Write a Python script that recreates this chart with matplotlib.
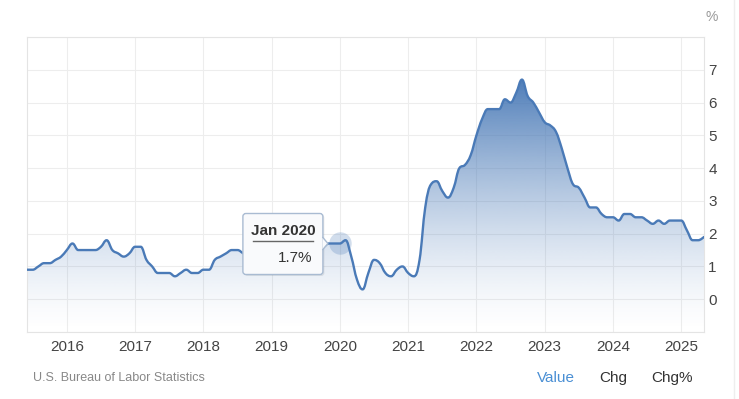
import numpy as np
import matplotlib
matplotlib.use("Agg")
import matplotlib.pyplot as plt
import matplotlib.transforms as mtransforms
from matplotlib import font_manager
from matplotlib.path import Path
from matplotlib.patches import PathPatch, FancyBboxPatch, Polygon
from matplotlib.lines import Line2D

W, H = 739, 399

# monthly values, Jun 2015 .. May 2025
start_year, start_month = 2015, 6
values = [
    0.9, 0.9, 1.0, 1.1, 1.1, 1.2, 1.3,                          # 2015 Jun-Dec
    1.5, 1.7, 1.5, 1.5, 1.5, 1.5, 1.6, 1.8, 1.5, 1.4, 1.3, 1.4,  # 2016
    1.6, 1.6, 1.2, 1.0, 0.8, 0.8, 0.8, 0.7, 0.8, 0.9, 0.8, 0.8,  # 2017
    0.9, 0.9, 1.2, 1.3, 1.4, 1.5, 1.5, 1.4, 1.3, 1.3, 1.2, 1.2,  # 2018
    1.2, 1.3, 1.4, 1.4, 1.5, 1.5, 1.6, 1.6, 1.6, 1.6, 1.7, 1.7,  # 2019
    1.7, 1.8, 1.3, 0.6, 0.3, 0.8, 1.2, 1.1, 0.8, 0.7, 0.9, 1.0,  # 2020
    0.8, 0.7, 1.2, 2.8, 3.5, 3.6, 3.3, 3.1, 3.4, 4.0, 4.1, 4.4,  # 2021
    5.0, 5.5, 5.8, 5.8, 5.8, 6.1, 6.0, 6.3, 6.7, 6.2, 6.0, 5.7,  # 2022
    5.4, 5.3, 5.1, 4.6, 4.0, 3.5, 3.4, 3.1, 2.8, 2.8, 2.6, 2.5,  # 2023
    2.5, 2.4, 2.6, 2.6, 2.5, 2.5, 2.4, 2.3, 2.4, 2.3, 2.4, 2.4,  # 2024
    2.4, 2.1, 1.8, 1.8, 1.9,                                    # 2025 Jan-May
]
year_ticks = list(range(2016, 2026))
value_ticks = list(range(0, 8))
tip_year, tip_month = 2020, 1
tip_label = "Jan 2020"
unit = "%"
source = "U.S. Bureau of Labor Statistics"
tabs = ["Value", "Chg", "Chg%"]

LINE = "#4a7ab7"


def pick_font():
    names = {f.name for f in font_manager.fontManager.ttflist}
    for n in ["Liberation Sans Narrow", "Liberation Sans", "DejaVu Sans"]:
        if n in names:
            return n
    return "DejaVu Sans"


def spline(xs, ys):
    # highcharts-like spline control points
    sm, den = 1.5, 2.5
    n = len(xs)
    rcx = [None] * n
    rcy = [None] * n
    verts = [(xs[0], ys[0])]
    codes = [Path.MOVETO]
    for i in range(1, n):
        x, y = xs[i], ys[i]
        lcx, lcy = x, y
        if i < n - 1:
            lx, ly = xs[i - 1], ys[i - 1]
            nx, ny = xs[i + 1], ys[i + 1]
            lcx = (sm * x + lx) / den
            lcy = (sm * y + ly) / den
            rx = (sm * x + nx) / den
            ry = (sm * y + ny) / den
            corr = (ry - lcy) * (rx - x) / (rx - lcx) + y - ry
            lcy += corr
            ry += corr
            if lcy > ly and lcy > y:
                lcy = max(ly, y)
                ry = 2 * y - lcy
            elif lcy < ly and lcy < y:
                lcy = min(ly, y)
                ry = 2 * y - lcy
            if ry > ny and ry > y:
                ry = max(ny, y)
                lcy = 2 * y - ry
            elif ry < ny and ry < y:
                ry = min(ny, y)
                lcy = 2 * y - ry
            rcx[i], rcy[i] = rx, ry
        p0 = (rcx[i - 1] if rcx[i - 1] is not None else xs[i - 1],
              rcy[i - 1] if rcy[i - 1] is not None else ys[i - 1])
        verts += [p0, (lcx, lcy), (x, y)]
        codes += [Path.CURVE4] * 3
    return verts, codes


font = pick_font()
plt.rcParams["font.family"] = [font, "DejaVu Sans"]

xs = np.array([start_year + (start_month - 1 + i) / 12 for i in range(len(values))])
ys = np.array(values, dtype=float)

fig = plt.figure(figsize=(W / 100, H / 100), dpi=100)
ax = fig.add_axes([27 / W, 1 - 332 / H, (704 - 27) / W, (332 - 37) / H])
ax.set_xlim(xs[0], xs[-1])
ax.set_ylim(-1, 8)

ax.set_xticks(year_ticks)
ax.set_xticklabels([str(y) for y in year_ticks])
ax.set_yticks(value_ticks)
ax.yaxis.tick_right()
ax.tick_params(axis="x", length=0, pad=6, labelsize=11, labelcolor="#444444")
ax.tick_params(axis="y", length=0, pad=3, labelsize=11, labelcolor="#444444")
ax.set_yticks([-1, 8], minor=True)
ax.tick_params(which="minor", length=0)
ax.grid(True, which="both", color="#ededed", linewidth=0.8)
ax.set_axisbelow(True)
for s in ax.spines.values():
    s.set_color("#e4e4e4")
    s.set_linewidth(0.8)

verts, codes = spline(xs, ys)
line_path = Path(verts, codes)
fill_verts = verts + [(xs[-1], -1), (xs[0], -1), (xs[0], ys[0])]
fill_codes = codes + [Path.LINETO, Path.LINETO, Path.CLOSEPOLY]
fill_patch = PathPatch(Path(fill_verts, fill_codes), facecolor="none", edgecolor="none")
ax.add_patch(fill_patch)

# vertical gradient under the line
rgb = np.array(matplotlib.colors.to_rgb(LINE))
grad_y = np.linspace(-1, 8, 400)
alpha = np.clip((grad_y + 1) / (ys.max() + 1), 0, 1) ** 1.45 * 0.97
img = np.zeros((400, 1, 4))
img[:, 0, :3] = rgb
img[:, 0, 3] = alpha
im = ax.imshow(img, extent=[xs[0], xs[-1], -1, 8], origin="lower",
               aspect="auto", zorder=1, interpolation="bilinear")
im.set_clip_path(fill_patch)

ax.add_patch(PathPatch(line_path, facecolor="none", edgecolor=LINE,
                       linewidth=1.7, zorder=3, capstyle="round", joinstyle="round"))

# hovered point
ti = (tip_year - start_year) * 12 + (tip_month - start_month)
ax.scatter([xs[ti]], [ys[ti]], s=260, color=LINE, alpha=0.25, linewidths=0, zorder=4)

# tooltip, placed relative to the hovered point (pixel space)
pix = mtransforms.IdentityTransform()
px, py = ax.transData.transform((xs[ti], ys[ti]))
left, right = px - 97, px - 17
top, bottom = py + 30, py - 31
shadow = FancyBboxPatch((left + 1.5, bottom - 1.5), right - left, top - bottom,
                        boxstyle="round,pad=0,rounding_size=3", transform=pix,
                        facecolor="#000000", alpha=0.08, edgecolor="none", zorder=5)
fig.add_artist(shadow)
box = FancyBboxPatch((left, bottom), right - left, top - bottom,
                     boxstyle="round,pad=0,rounding_size=3", transform=pix,
                     facecolor="#f9fafc", edgecolor="#a9bbd2", linewidth=1, zorder=6)
fig.add_artist(box)
arrow = Polygon([(right - 0.5, py + 6), (right + 5, py), (right - 0.5, py - 6)],
                closed=True, transform=pix, facecolor="#f9fafc", edgecolor="none", zorder=7)
fig.add_artist(arrow)
fig.add_artist(Line2D([right, right + 5, right], [py + 6, py, py - 6], transform=pix,
                      color="#a9bbd2", linewidth=1, zorder=7))
fig.text((left + right) / 2 / W, (top - 18) / H, tip_label, ha="center", va="center",
         fontsize=11, fontweight="bold", color="#333333", zorder=8)
fig.add_artist(Line2D([left + 10, right - 10], [top - 28, top - 28], transform=pix,
                      color="#666666", linewidth=1, zorder=8))
fig.text((right - 11) / W, (top - 45) / H, f"{ys[ti]:.1f}{unit}", ha="right", va="center",
         fontsize=11, color="#333333", zorder=8)

# header / footer texts
fig.text(712 / W, 1 - 17 / H, unit, ha="center", va="center", fontsize=10, color="#999999")
fig.text(33 / W, 1 - 378 / H, source, ha="left", va="center", fontsize=9, color="#888888")
for label, cx, col in zip(tabs, [556, 613, 672], ["#4a8fd4", "#333333", "#333333"]):
    fig.text(cx / W, 1 - 378 / H, label, ha="center", va="center", fontsize=11, color=col)

# faint outer frame
fig.add_artist(Line2D([734 / W, 734 / W], [0, 1], transform=fig.transFigure,
                      color="#eeeeee", linewidth=1))

fig.savefig("out.png", dpi=100, facecolor="white")
